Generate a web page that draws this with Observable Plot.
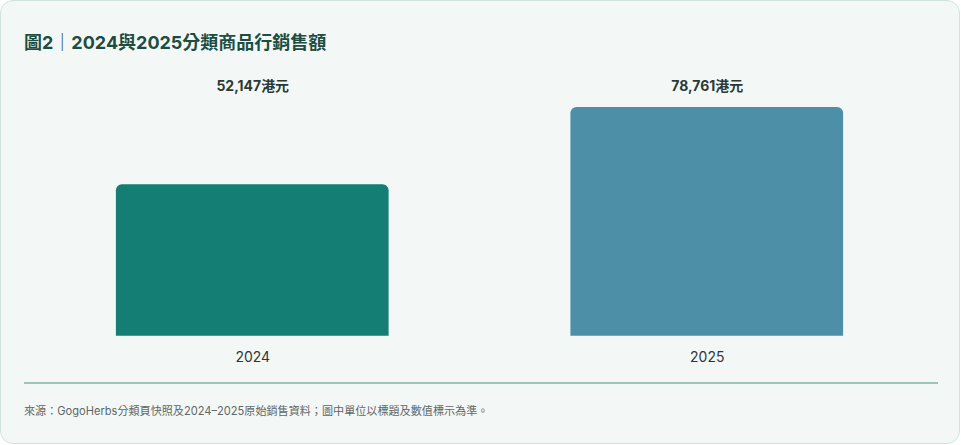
<!DOCTYPE html>
<html>
<head>
<meta charset="utf-8">
<script src="https://cdn.jsdelivr.net/npm/d3@7"></script>
<script src="https://cdn.jsdelivr.net/npm/@observablehq/plot@0.6"></script>
<style>
  html, body { margin: 0; padding: 0; background: #ffffff; }
  body { font-family: Inter, "Noto Sans CJK TC", "Noto Sans", sans-serif; }
  .card {
    position: relative;
    box-sizing: border-box;
    width: 960px; height: 444px;
    background: #f3f8f7;
    border: 1px solid #cfe3dc;
    border-radius: 13px;
  }
  .title {
    position: absolute; left: 23px; top: 28px;
    font-size: 18px; font-weight: 700; color: #1d4d41;
    line-height: 24px; white-space: nowrap;
    font-family: Inter, "Noto Sans CJK TC", sans-serif;
  }
  .title .bar { font-family: "Noto Sans CJK TC", sans-serif; font-weight: 400; }
  #chart { position: absolute; left: -1px; top: 59px; }
  .divider {
    position: absolute; left: 23px; top: 381px;
    width: 914px; height: 2px; background: #9fc3b9;
  }
  .footer {
    position: absolute; left: 23px; top: 401px;
    font-size: 11.1px; color: #5f6664; line-height: 18px; white-space: nowrap;
    font-family: Inter, "Noto Sans CJK TC", sans-serif;
  }
</style>
</head>
<body>
<div class="card">
  <div class="title">圖2<span class="bar">｜</span>2024與2025分類商品行銷售額</div>
  <div id="chart"></div>
  <div class="divider"></div>
  <div class="footer">來源：GogoHerbs分類頁快照及2024–2025原始銷售資料；圖中單位以標題及數值標示為準。</div>
</div>
<script>
const years = ["2024", "2025"];
const sales = [52147, 78761];
const colors = ["#147d74", "#4e8fa8"];
const unit = "港元";

const data = years.map((y, i) => ({year: y, value: sales[i], color: colors[i]}));

const chart = Plot.plot({
  width: 960,
  height: 312,
  marginTop: 47,
  marginBottom: 36,
  marginLeft: 24,
  marginRight: 25,
  style: {background: "transparent", fontFamily: "Inter, 'Noto Sans CJK TC', sans-serif"},
  x: {domain: years, paddingInner: 0.4, paddingOuter: 0.2, label: null},
  y: {domain: [0, d3.max(sales)], axis: null},
  marks: [
    Plot.barY(data, {
      x: "year", y: "value", fill: "color",
      rx1y1: 6, rx2y1: 6
    }),
    Plot.text(data, {
      x: "year", frameAnchor: "top", lineAnchor: "middle", dy: -21,
      text: d => d3.format(",")(d.value) + unit,
      fontSize: 14, fontWeight: 700, fill: "#2b3934"
    }),
    Plot.axisX({
      tickSize: 0, tickPadding: 16, fontSize: 14, color: "#2f3533", label: null
    })
  ]
});
document.getElementById("chart").appendChild(chart);
</script>
</body>
</html>
